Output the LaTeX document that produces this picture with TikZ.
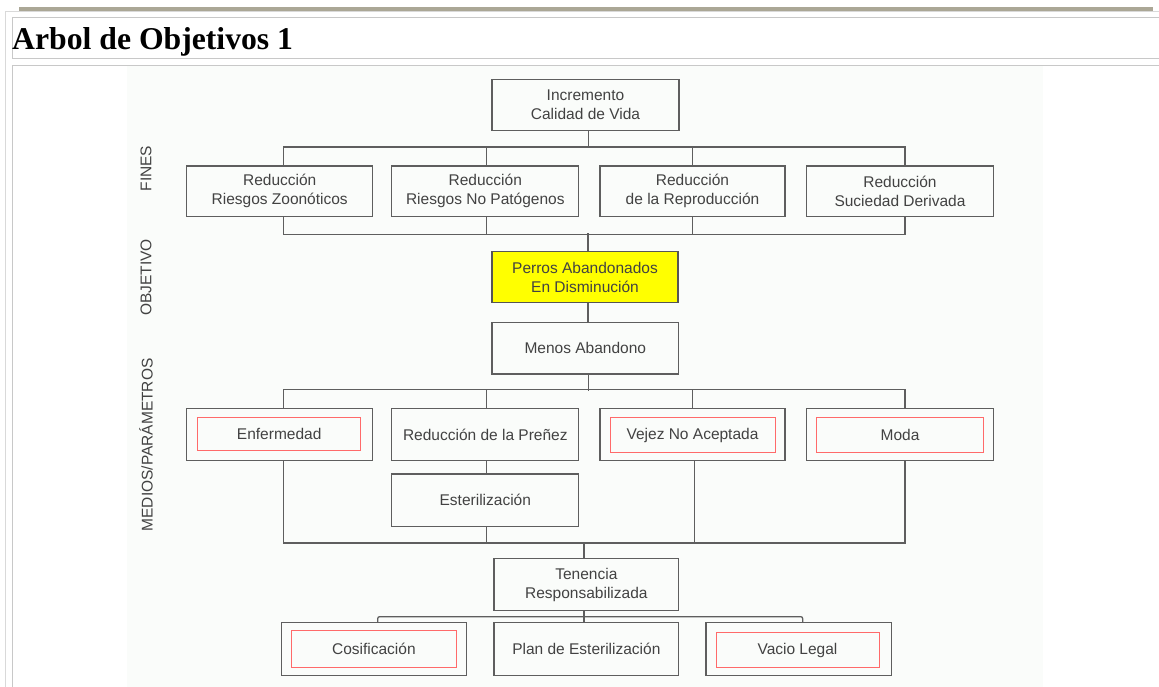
\documentclass[tikz,border=0pt]{standalone}
\usepackage{fontspec}
\setmainfont{Liberation Serif}
\newfontfamily\arialf{Liberation Sans}
\definecolor{boxline}{HTML}{5E5E5E}
\definecolor{txt}{HTML}{424242}
\definecolor{redin}{HTML}{FF6A6A}
\definecolor{yel}{HTML}{FFFF00}
\definecolor{tline}{HTML}{C8C8C8}
\definecolor{bar}{HTML}{ABA796}
\definecolor{diagbg}{HTML}{FAFCFA}
\begin{document}
\begin{tikzpicture}[x=1pt,y=-1pt,
  box/.style={draw=boxline, line width=1.3pt, inner sep=0pt, text=txt,
    font=\arialf\fontsize{15.5}{19}\selectfont, align=center,
    minimum width=186pt, minimum height=51pt},
  inbox/.style={draw=redin, line width=0.9pt, inner sep=0pt, text=txt,
    font=\arialf\fontsize{15.5}{19}\selectfont, align=center},
  conn/.style={draw=boxline, line width=1.3pt},
  side/.style={rotate=90, text=txt, font=\arialf\fontsize{15.5}{18}\selectfont},
  tl/.style={draw=tline, line width=1pt}]
\useasboundingbox (0,0) rectangle (1159,687);
\fill[white] (0,0) rectangle (1159,687);
% page frame
\fill[bar] (19,6.7) rectangle (1152.7,11);
\draw[tl, draw=tline!70] (5,11.5) -- (1159,11.5);
\draw[tl, draw=tline!70] (5,11.5) -- (5,687);
\draw[tl] (1159,17.3) -- (12,17.3) -- (12,58.3) -- (1159,58.3);
\draw[tl] (1159,65.3) -- (12,65.3) -- (12,687);
\node[anchor=base west, inner sep=0pt, font=\bfseries\fontsize{31.7}{36}\selectfont] (title) at (12,50) {Arbol de Objetivos 1};
\fill[diagbg] (127,66) rectangle (1043.3,687);
% side labels
\node[side] (lfines) at (146,168.5) {FINES};
\node[side] (lobj) at (146,277.5) {OBJETIVO};
\node[side] (lmed) at (146,445) {MEDIOS/PARÁMETROS};
% top
\node[box, minimum width=187pt] (inc) at (585.5,105) {Incremento\\Calidad de Vida};
\node[box, minimum height=50.5pt] (f1) at (279.7,191.25) {Reducción\\Riesgos Zoonóticos};
\node[box, minimum width=187pt, minimum height=50.5pt] (f2) at (485.3,191.25) {Reducción\\Riesgos No Patógenos};
\node[box, minimum width=185pt, minimum height=50.5pt] (f3) at (692.5,191.25) {Reducción\\de la Reproducción};
\node[box, minimum width=186.6pt, minimum height=50.5pt] (f4) at (900,191.25) {Reducción\\Suciedad Derivada};
\node[box, fill=yel, draw=boxline!90!black] (obj) at (585,277.2) {Perros Abandonados\\En Disminución};
\node[box, minimum width=186.7pt, minimum height=51.3pt] (menos) at (585.3,348.3) {Menos Abandono};
% medios row
\node[box, minimum height=52.4pt] (m1) at (279.7,434.5) {};
\node[inbox, minimum width=163pt, minimum height=33pt] (m1i) at (279.2,434.2) {Enfermedad};
\node[box, minimum width=187pt, minimum height=52.4pt] (m2) at (485.3,434.5) {Reducción de la Preñez};
\node[box, minimum width=185pt, minimum height=52.4pt] (m3) at (692.5,434.5) {};
\node[inbox, minimum width=165pt, minimum height=35pt] (m3i) at (692.5,435.2) {Vejez No Aceptada};
\node[box, minimum width=186.6pt, minimum height=52.4pt] (m4) at (900,434.5) {};
\node[inbox, minimum width=166.6pt, minimum height=35pt] (m4i) at (900,435.2) {Moda};
\node[box, minimum width=187pt, minimum height=52.7pt] (ester) at (485.3,500.35) {Esterilización};
% bottom
\node[box, minimum width=184.7pt, minimum height=52.4pt] (ten) at (586.35,584.5) {Tenencia\\Responsabilizada};
\node[box, minimum width=185pt, minimum height=52.6pt] (b1) at (374.2,649) {};
\node[inbox, minimum width=164.3pt, minimum height=36.6pt] (b1i) at (373.85,649) {Cosificación};
\node[box, minimum width=184.7pt, minimum height=52.6pt] (b2) at (586.35,649) {Plan de Esterilización};
\node[box, minimum width=185.7pt, minimum height=52.6pt] (b3) at (798.85,649) {};
\node[inbox, minimum width=163pt, minimum height=34.6pt] (b3i) at (797.5,650) {Vacio Legal};
% connectors: inc -> fines
\draw[conn] ([xshift=2.8]inc.south) -- ++(0,17.2);
\draw[conn] ([xshift=3.6]f1.north) -- ++(0,-18.3) -| ([xshift=5]f4.north);
\draw[conn] ([xshift=1.4]f2.north) -- ++(0,-18.3);
\draw[conn] ([xshift=0.2]f3.north) -- ++(0,-18.3);
% fines -> objetivo
\draw[conn] ([xshift=3.6]f1.south) -- ++(0,17.5) -| ([xshift=5]f4.south);
\draw[conn] ([xshift=1.4]f2.south) -- ++(0,17.5);
\draw[conn] ([xshift=0.2]f3.south) -- ++(0,17.5);
\draw[conn] ([xshift=3]obj.north) -- ++(0,-17.7);
\draw[conn] ([xshift=3]obj.south) -- ++(0,20);
% menos -> medios
\draw[conn] ([xshift=3]menos.south) -- ++(0,16);
\draw[conn] ([xshift=3.6]m1.north) -- ++(0,-18.3) -| ([xshift=5]m4.north);
\draw[conn] ([xshift=1.4]m2.north) -- ++(0,-18.3);
\draw[conn] ([xshift=0.2]m3.north) -- ++(0,-18.3);
\draw[conn] ([xshift=1.4]m2.south) -- ([xshift=1.4]ester.north);
% medios -> tenencia
\draw[conn] ([xshift=3.6]m1.south) -- ++(0,81.6) -| ([xshift=5]m4.south);
\draw[conn] ([xshift=1.4]ester.south) -- ++(0,15.6);
\draw[conn] ([xshift=2.2]m3.south) -- ++(0,81.6);
\draw[conn] ([xshift=-2.3]ten.north) -- ++(0,-16);
% tenencia -> bottom row
\draw[conn] ([xshift=-2.3]ten.south) -- ([xshift=-2.3]b2.north);
\draw[conn, rounded corners=2pt] ([xshift=3.5]b1.north) -- ++(0,-5.4) -| ([xshift=3.85]b3.north);
\end{tikzpicture}
\end{document}
